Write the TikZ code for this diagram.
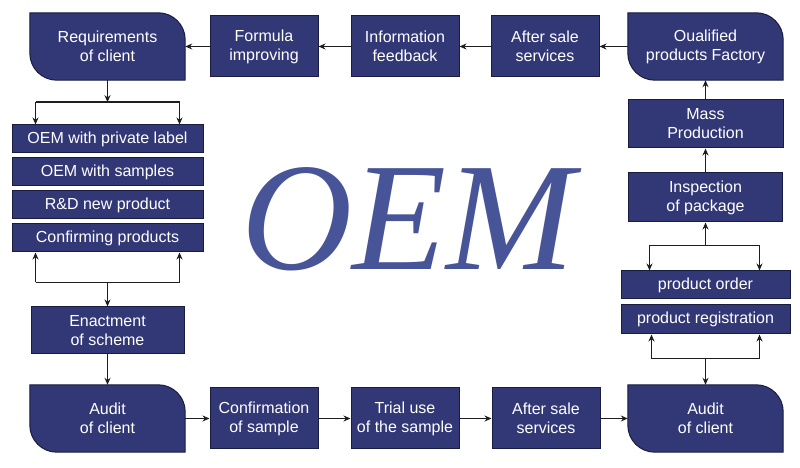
\documentclass[tikz,border=0pt]{standalone}
\usepackage{fontspec}
\usepackage{pdfrender}
\setmainfont{Liberation Sans}
\newfontfamily\oemfont{Liberation Serif}
\usetikzlibrary{arrows.meta, positioning}
\definecolor{boxfill}{RGB}{50,56,118}
\definecolor{boxline}{RGB}{24,28,62}
\definecolor{oemblue}{RGB}{72,84,152}
\definecolor{oemline}{RGB}{30,34,72}
\definecolor{wiregray}{RGB}{30,30,30}
\newcommand{\boxfont}{\fontsize{16}{19}\selectfont}
\pgfdeclarelayer{background}
\pgfsetlayers{background,main}
% box with two rounded corners (top right, bottom left)
\newcommand{\leafshape}[1]{%
  \filldraw[fill=boxfill, draw=boxline, line width=1pt]
    (#1.north west) -- ([xshift=-27]#1.north east)
    arc[start angle=90, end angle=0, radius=27] -- (#1.south east)
    -- ([xshift=27]#1.south west)
    arc[start angle=270, end angle=180, radius=27] -- cycle;}

\begin{document}
\begin{tikzpicture}[x=1pt, y=1pt,
  box/.style={draw=boxline, fill=boxfill, line width=1pt, text=white, font=\boxfont, align=center, inner sep=0pt},
  leaf/.style={text=white, font=\boxfont, align=center, inner sep=0pt, minimum width=155, minimum height=67},
  midbox/.style={box, minimum width=108, minimum height=61},
  bar/.style={box, minimum width=191, minimum height=28},
  arr/.style={-{Stealth[length=7pt,width=6pt]}, line width=1.4pt, wiregray},
  wire/.style={line width=1.4pt, wiregray}]

  \useasboundingbox (0,0) rectangle (800,468);

  % top row
  \node[leaf] (req) at (107.5,421.5) {Requirements\\of client};
  \node[midbox] (formula) at (264,421.5) {Formula\\improving};
  \node[midbox] (feedback) at (405,421.5) {Information\\feedback};
  \node[midbox] (service1) at (545,421.5) {After sale\\services};
  \node[leaf] (factory) at (705.5,421.5) {Oualified\\products Factory};

  % right column
  \node[box, minimum width=155, minimum height=48] (mass) at (705.5,344) {Mass\\Production};
  \node[box, minimum width=154, minimum height=49] (inspect) at (705.5,270.5) {Inspection\\of package};
  \node[box, minimum width=169, minimum height=28] (order) at (705.5,183) {product order};
  \node[box, minimum width=169, minimum height=29, below=5pt of order] (regist) {product registration};
  \node[leaf] (audit2) at (705.5,49.5) {Audit\\of client};

  % bottom row
  \node[leaf] (audit1) at (107.5,49.5) {Audit\\of client};
  \node[midbox] (confirm) at (264,49.5) {Confirmation\\of sample};
  \node[midbox] (trial) at (405,49.5) {Trial use\\of the sample};
  \node[midbox] (service2) at (546,49.5) {After sale\\services};

  % left column
  \node[bar] (s1) at (107.5,329) {OEM with private label};
  \node[bar, below=4pt of s1] (s2) {OEM with samples};
  \node[bar, below=4pt of s2] (s3) {R\&D new product};
  \node[bar, below=4pt of s3] (s4) {Confirming products};
  \node[box, minimum width=153, minimum height=47] (scheme) at (107.5,137.5) {Enactment\\of scheme};

  % title
  \node[font=\oemfont\itshape\fontsize{154}{154}\selectfont, text=oemblue, inner sep=0pt, anchor=base] (oem) at (408,198)
    {\textpdfrender{TextRenderingMode=FillStroke, LineWidth=1.3, StrokeColor=oemline, FillColor=oemblue}{OEM}};

  \begin{pgfonlayer}{background}
    \foreach \n in {req, factory, audit1, audit2} {\leafshape{\n}}
  \end{pgfonlayer}

  % top row arrows
  \draw[arr] (factory.west) -- (service1.east);
  \draw[arr] (service1.west) -- (feedback.east);
  \draw[arr] (feedback.west) -- (formula.east);
  \draw[arr] (formula.west) -- (req.east);

  % split above the stack
  \coordinate (splitT) at ([yshift=-22]req.south);
  \coordinate (lt) at ([xshift=24]s1.north west);
  \coordinate (rt) at ([xshift=-24]s1.north east);
  \draw[arr] (req.south) -- (splitT);
  \draw[wire] (splitT -| lt) -- (splitT -| rt);
  \draw[arr] (splitT -| lt) -- (lt);
  \draw[arr] (splitT -| rt) -- (rt);

  % join below the stack
  \coordinate (joinB) at ([yshift=-30]s4.south);
  \coordinate (lb) at ([xshift=24]s4.south west);
  \coordinate (rb) at ([xshift=-24]s4.south east);
  \draw[wire] (joinB -| lb) -- (joinB -| rb);
  \draw[arr] (joinB -| lb) -- (lb);
  \draw[arr] (joinB -| rb) -- (rb);
  \draw[arr] (joinB) -- (scheme.north);
  \draw[arr] (scheme.south) -- (audit1.north);

  % bottom row arrows
  \draw[arr] (audit1.east) -- (confirm.west);
  \draw[arr] (confirm.east) -- (trial.west);
  \draw[arr] (trial.east) -- (service2.west);
  \draw[arr] (service2.east) -- (audit2.west);

  % join below registration
  \coordinate (joinR) at ([yshift=26]audit2.north);
  \coordinate (lr) at ([xshift=31]regist.south west);
  \coordinate (rr) at ([xshift=-31]regist.south east);
  \draw[wire] (joinR -| lr) -- (joinR -| rr);
  \draw[arr] (joinR -| lr) -- (lr);
  \draw[arr] (joinR -| rr) -- (rr);
  \draw[arr] (joinR) -- (audit2.north);

  % split above order
  \coordinate (splitR) at ([yshift=-23]inspect.south);
  \coordinate (lo) at ([xshift=29]order.north west);
  \coordinate (ro) at ([xshift=-31]order.north east);
  \draw[arr] (splitR) -- (inspect.south);
  \draw[wire] (splitR -| lo) -- (splitR -| ro);
  \draw[arr] (splitR -| lo) -- (lo);
  \draw[arr] (splitR -| ro) -- (ro);

  \draw[arr] (inspect.north) -- (mass.south);
  \draw[arr] (mass.north) -- (factory.south);
\end{tikzpicture}
\end{document}
